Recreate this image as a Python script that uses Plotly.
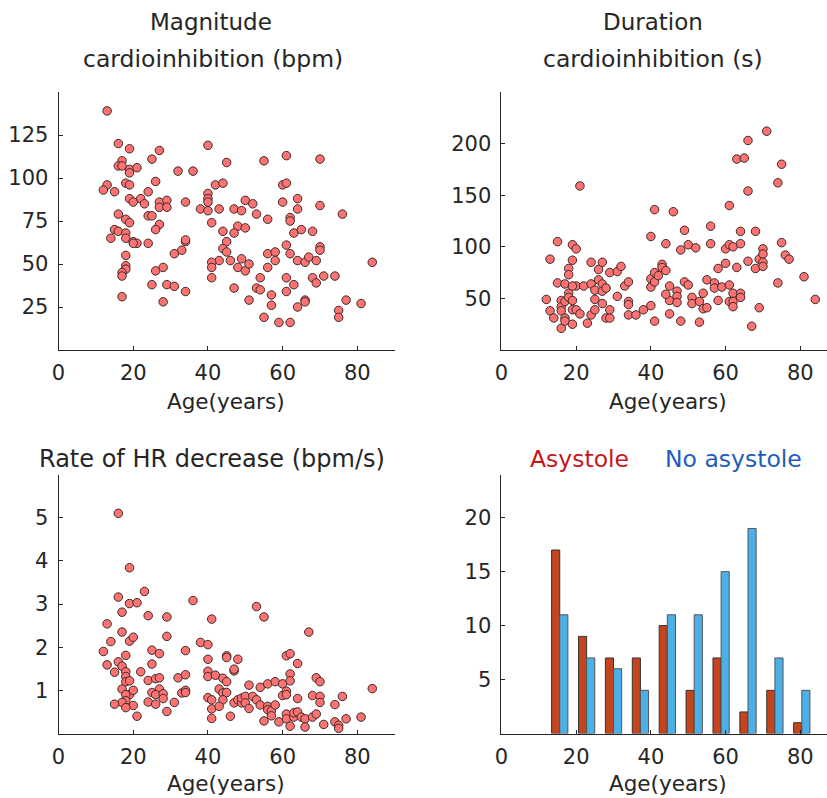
import plotly.graph_objects as go

# ---------------- data ----------------
mag_age = [13,16,19,27,25,17,16,17,19,19,21,13,12,15,18,19,26,24,19,20,22,23,27,27,29,29,16,18,19,24,25,27,26,15,16,14,18,18,20,21,20,24,18,18,18,17,17,17,26,28,25,29,31,28,34,31,33,34,34,34,32,36,40,38,40,40,40,40,42,44,45,43,41,44,45,44,45,43,41,41,41,46,47,49,48,50,50,52,53,47,49,48,50,51,47,51,53,54,54,56,55,56,58,56,58,57,57,55,59,60,61,61,60,62,62,64,64,63,65,61,62,64,61,63,61,64,62,66,67,66,66,68,69,70,70,70,70,68,69,71,74,76,75,75,77,81,84]
mag_bpm = [139,120,117,116,111,110,107,107,105,103,106,96,93,92,97,96,98,92,88,86,88,85,86,83,87,83,79,76,74,78,78,73,70,70,69,65,68,65,63,62,62,62,55,49,47,45,43,31,46,48,38,38,37,28,34,56,58,63,64,86,104,104,119,82,81,91,88,86,96,97,109,82,74,69,63,59,57,52,51,48,42,52,82,81,72,71,87,85,79,68,53,48,46,50,36,29,36,35,42,76,110,56,57,48,52,32,26,19,16,96,97,113,86,77,75,88,82,68,70,61,56,52,42,38,34,25,16,51,54,29,28,69,52,60,58,111,84,42,39,43,43,79,23,19,29,27,51]

dur_age = [12,13,14,15,15,13,16,16,16,16,17,17,17,17,18,18,18,18,19,19,20,19,19,20,20,19,19,21,21,22,23,24,24,24,25,25,25,26,26,27,27,27,27,28,28,29,29,29,31,31,32,33,34,34,34,34,36,38,40,40,40,40,41,41,41,41,42,43,43,44,44,45,45,45,44,46,47,47,47,48,48,49,49,50,50,51,51,52,53,53,54,54,55,55,56,56,57,57,58,58,59,60,60,61,61,61,61,62,62,62,62,63,63,64,64,64,64,65,66,66,66,67,68,68,69,69,70,70,70,70,71,74,74,75,75,76,77,81,84]
dur_s = [49,38,31,105,65,88,48,42,38,21,64,47,31,28,55,51,79,73,87,102,98,48,39,39,62,62,25,35,159,62,26,64,34,85,58,49,39,68,78,85,64,57,45,60,31,31,39,75,52,76,81,62,66,47,44,34,34,39,43,110,61,69,136,75,66,28,72,83,80,77,103,62,48,35,54,134,57,52,46,97,28,116,66,102,63,51,45,99,47,27,55,40,41,68,120,103,65,60,79,48,61,84,98,140,102,63,47,100,55,47,42,185,80,115,103,55,51,186,203,154,86,23,115,79,88,41,98,93,85,81,212,162,65,180,104,92,88,71,49]

rate_age = [16,19,16,19,21,23,17,24,29,13,17,14,19,20,29,12,18,13,16,17,18,15,18,18,19,19,17,20,18,18,17,15,20,18,21,22,25,25,24,26,27,27,25,27,26,28,28,24,26,29,31,32,33,34,34,34,34,36,38,40,40,40,40,40,41,41,41,41,42,44,45,45,45,43,44,45,44,43,46,47,47,48,47,48,49,49,50,50,51,51,52,53,53,54,54,55,55,56,56,56,57,57,58,58,59,60,60,61,61,61,62,62,62,61,61,62,63,63,64,64,64,65,66,66,67,68,68,69,69,70,70,70,71,74,74,75,75,76,77,81,84]
rate_bpms = [5.10,3.84,3.16,3.01,3.03,3.29,2.81,2.73,2.70,2.54,2.35,2.13,2.14,2.23,2.25,1.90,1.81,1.59,1.66,1.56,1.43,1.42,1.32,1.20,1.22,0.90,1.03,1.00,0.90,0.76,0.72,0.68,0.65,0.60,0.40,1.43,1.93,1.61,1.23,1.27,1.29,1.85,0.95,1.03,0.90,0.92,0.81,0.73,0.68,0.51,0.72,1.29,0.94,1.00,0.95,1.36,1.92,3.08,2.11,2.06,1.72,1.44,1.32,0.83,2.65,0.78,0.57,0.35,1.35,1.28,1.20,1.80,1.76,1.03,0.94,0.95,0.78,0.63,0.40,1.45,1.49,1.72,0.71,0.78,0.71,0.82,0.86,0.71,1.12,0.58,0.86,2.94,0.78,1.07,0.66,2.70,0.29,1.15,0.63,0.55,0.53,0.41,1.20,0.66,0.27,1.15,0.88,0.98,0.90,1.80,1.85,1.38,1.22,0.45,0.34,0.17,0.38,0.48,1.62,0.81,0.50,0.38,0.34,0.15,2.35,0.88,0.38,1.29,0.45,1.20,0.86,0.72,0.21,0.67,0.27,0.19,0.12,0.86,0.34,0.38,1.04]

bin_centers = [15.6, 22.8, 30.0, 37.2, 44.4, 51.6, 58.8, 66.0, 73.2, 80.4]
asystole_counts = [17, 9, 7, 7, 10, 4, 7, 2, 4, 1]
no_asystole_counts = [11, 7, 6, 4, 11, 11, 15, 19, 7, 4]

x_ticks = [0, 20, 40, 60, 80]
mag_ticks = [25, 50, 75, 100, 125]
dur_ticks = [50, 100, 150, 200]
rate_ticks = [1, 2, 3, 4, 5]
count_ticks = [5, 10, 15, 20]

# ---------------- styling ----------------
W, H = 827, 798
FONT = "DejaVu Sans"
AX = "#262626"
PT_FILL = "#FF7272"
PT_LINE = "#3A2A2A"
RED_BAR = "#C4441E"
BLUE_BAR = "#4DAFE7"

def px(x):
    return x / W

def py(y):
    return 1 - y / H

marker = dict(size=8.5, color=PT_FILL, line=dict(color=PT_LINE, width=1))

fig = go.Figure()
fig.add_trace(go.Scatter(x=mag_age, y=mag_bpm, mode="markers", marker=marker,
                         xaxis="x", yaxis="y", showlegend=False))
fig.add_trace(go.Scatter(x=dur_age, y=dur_s, mode="markers", marker=marker,
                         xaxis="x2", yaxis="y2", showlegend=False))
fig.add_trace(go.Scatter(x=rate_age, y=rate_bpms, mode="markers", marker=marker,
                         xaxis="x3", yaxis="y3", showlegend=False))
fig.add_trace(go.Bar(x=bin_centers, y=asystole_counts, width=2.18, offset=-2.18,
                     marker=dict(color=RED_BAR, line=dict(color="#333333", width=1)),
                     xaxis="x4", yaxis="y4", showlegend=False))
fig.add_trace(go.Bar(x=bin_centers, y=no_asystole_counts, width=2.18, offset=0,
                     marker=dict(color=BLUE_BAR, line=dict(color="#555555", width=1)),
                     xaxis="x4", yaxis="y4", showlegend=False))

def xax(domain, rng, anchor):
    return dict(domain=domain, range=rng, anchor=anchor, showgrid=False, zeroline=False,
                showline=True, linecolor=AX, linewidth=1, ticks="inside", ticklen=4,
                tickcolor=AX, tickvals=x_ticks, tickfont=dict(family=FONT, size=21, color=AX),
                ticklabelstandoff=4, fixedrange=True)

def yax(domain, rng, anchor, tv):
    return dict(domain=domain, range=rng, anchor=anchor, showgrid=False, zeroline=False,
                showline=True, linecolor=AX, linewidth=1, ticks="inside", ticklen=4,
                tickcolor=AX, tickvals=tv, tickfont=dict(family=FONT, size=21, color=AX),
                ticklabelstandoff=5, fixedrange=True)

left_dom = [px(52), px(391)]
right_dom = [px(498.7), 1.0]
top_dom = [py(350), py(92)]
bot_dom = [py(733.5), py(474.5)]

fig.update_layout(
    width=W, height=H,
    margin=dict(l=0, r=0, t=0, b=0),
    paper_bgcolor="white", plot_bgcolor="white",
    font=dict(family=FONT, color=AX),
    barmode="overlay",
    xaxis=xax(left_dom, [0, 90], "y"),
    yaxis=yax(top_dom, [0, 150], "x", mag_ticks),
    xaxis2=xax(right_dom, [0, 87.15], "y2"),
    yaxis2=yax(top_dom, [0, 250], "x2", dur_ticks),
    xaxis3=xax(left_dom, [0, 90], "y3"),
    yaxis3=yax(bot_dom, [0, 6], "x3", rate_ticks),
    xaxis4=xax(right_dom, [0, 87.15], "y4"),
    yaxis4=yax(bot_dom, [0, 24], "x4", count_ticks),
)

def ann(text, x, y, size, color=AX):
    return dict(text=text, x=px(x), y=py(y), xref="paper", yref="paper",
                xanchor="center", yanchor="middle", showarrow=False,
                font=dict(family=FONT, size=size, color=color))

fig.update_layout(annotations=[
    ann("Magnitude", 206, 22, 23),
    ann("cardioinhibition (bpm)", 208, 59, 23.5),
    ann("Duration", 652, 22, 23),
    ann("cardioinhibition (s)", 652, 59, 23.5),
    ann("Rate of HR decrease (bpm/s)", 207, 459, 24),
    ann("Asystole", 577, 459, 23.5, "#C8161D"),
    ann("No asystole", 733, 459, 23.5, "#1F5CC0"),
    ann("Age(years)", 221, 401, 21.5),
    ann("Age(years)", 667, 401, 21.5),
    ann("Age(years)", 221, 783, 21.5),
    ann("Age(years)", 667, 783, 21.5),
])

fig.write_html("out.html", config={"displayModeBar": False},
               post_script="document.body.style.margin='0';document.body.style.overflow='hidden';")
